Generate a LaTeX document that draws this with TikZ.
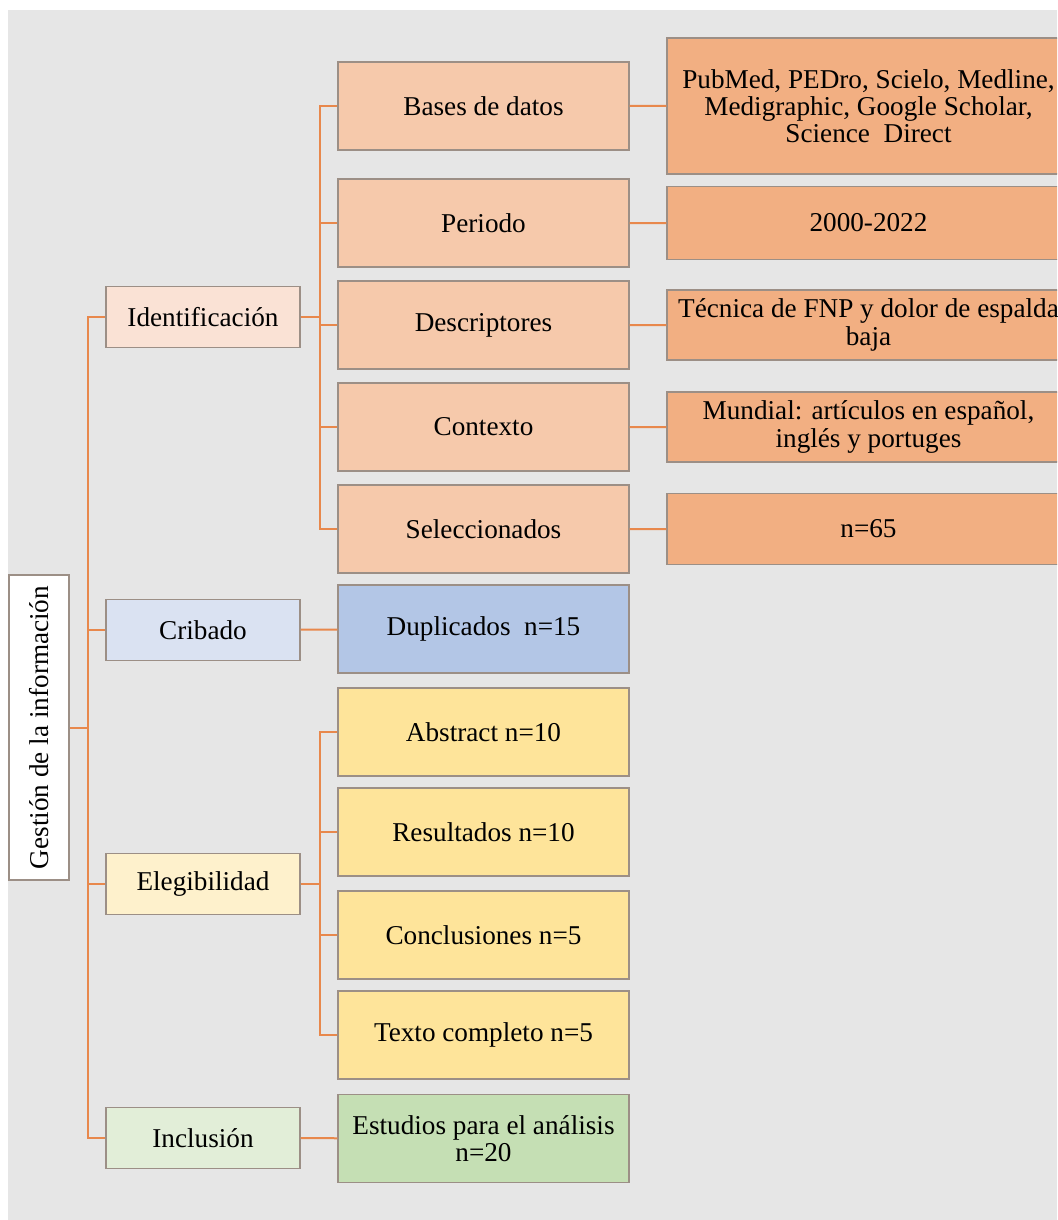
\documentclass[tikz,border=0pt]{standalone}
\usepackage{fontspec}
\setmainfont{Liberation Serif}
\usepackage{xcolor}
\usepackage{tikz}
\usetikzlibrary{positioning,calc}

\definecolor{fondo}{HTML}{E6E6E6}
\definecolor{linea}{HTML}{E8884C}
\definecolor{borde}{HTML}{9C8F86}
\definecolor{idclaro}{HTML}{FAE2D5}
\definecolor{idmedio}{HTML}{F6C9AB}
\definecolor{idfuerte}{HTML}{F2AF82}
\definecolor{crclaro}{HTML}{DAE2F2}
\definecolor{crfuerte}{HTML}{B3C6E6}
\definecolor{elclaro}{HTML}{FEF1CC}
\definecolor{elfuerte}{HTML}{FEE49A}
\definecolor{inclaro}{HTML}{E2EED8}
\definecolor{infuerte}{HTML}{C5DFB4}

\begin{document}
\begin{tikzpicture}[x=0.5pt, y=-0.5pt,
    font=\fontsize{13.6}{13.6}\selectfont,
    box/.style={draw=borde, line width=0.6pt, align=center, inner sep=2pt},
    raiz/.style={box, fill=white, rotate=90, minimum width=152.5pt, minimum height=30pt},
    etapa/.style={box, minimum width=97pt, minimum height=30.5pt},
    paso/.style={box, minimum width=145.5pt, minimum height=44pt},
    dato/.style={box, fill=idfuerte, minimum width=201.5pt},
    link/.style={draw=linea, line width=1pt}]

    \useasboundingbox (0,0) rectangle (1057,1220);
    \clip (0,0) rectangle (1057,1220);
    \fill[fondo] (8,10) rectangle (1057,1220);

    \node[raiz] (gestion) at (39,727.5) {Gestión de la información};

    \node[etapa, fill=idclaro] (ident) at (203,317) {Identificación};
    \node[etapa, fill=crclaro] (cribado) at (203,630) {Cribado};
    \node[etapa, fill=elclaro] (elegib) at (203,884) {Elegibilidad};
    \node[etapa, fill=inclaro] (inclus) at (203,1138) {Inclusión};

    \node[paso, fill=idmedio] (bases) at (483.5,106) {Bases de datos};
    \node[paso, fill=idmedio] (periodo) at (483.5,223) {Periodo};
    \node[paso, fill=idmedio] (descrip) at (483.5,325) {Descriptores};
    \node[paso, fill=idmedio] (contexto) at (483.5,427) {Contexto};
    \node[paso, fill=idmedio] (selec) at (483.5,529) {Seleccionados};
    \node[paso, fill=crfuerte] (duplic) at (483.5,629) {Duplicados\ \ n=15};
    \node[paso, fill=elfuerte] (abstract) at (483.5,732) {Abstract n=10};
    \node[paso, fill=elfuerte] (result) at (483.5,832) {Resultados n=10};
    \node[paso, fill=elfuerte] (concl) at (483.5,935) {Conclusiones n=5};
    \node[paso, fill=elfuerte] (texto) at (483.5,1035) {Texto completo n=5};
    \node[paso, fill=infuerte] (estudios) at (483.5,1138.5) {Estudios para el análisis\\n=20};

    \node[dato, minimum height=68pt] (fuentes) at (868.5,106) {PubMed, PEDro, Scielo, Medline,\\Medigraphic, Google Scholar,\\Science\ \ Direct};
    \node[dato, minimum height=36.5pt] (anios) at (868.5,223) {2000-2022};
    \node[dato, minimum height=35pt] (tecnica) at (868.5,325) {Técnica de FNP y dolor de espalda\\baja};
    \node[dato, minimum height=35pt] (mundial) at (868.5,427) {Mundial: artículos en español,\\inglés y portuges};
    \node[dato, minimum height=35.5pt] (total) at (868.5,529) {n=65};

    \coordinate (tronco) at (88,727.5);
    \path[link] (gestion.south) -- (tronco);
    \foreach \e in {ident,cribado,elegib,inclus}
        \path[link] (tronco) |- (\e.west);

    \foreach \p in {bases,periodo,descrip,contexto,selec}
        \path[link] (ident.east) -- ++(9.5pt,0) |- (\p.west);
    \foreach \p in {abstract,result,concl,texto}
        \path[link] (elegib.east) -- ++(9.5pt,0) |- (\p.west);

    \path[link]
    (cribado) -- (duplic)
    (inclus) -- (estudios)
    (bases) -- (fuentes)
    (periodo) -- (anios)
    (descrip) -- (tecnica)
    (contexto) -- (mundial)
    (selec) -- (total);
\end{tikzpicture}
\end{document}
